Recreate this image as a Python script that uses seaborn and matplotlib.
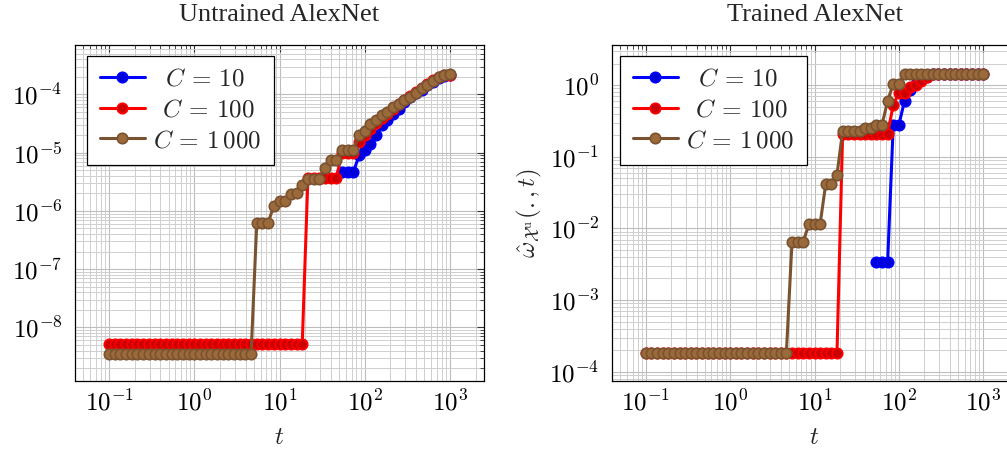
import numpy as np
import pandas as pd
import matplotlib
matplotlib.use("Agg")
import matplotlib.pyplot as plt
import seaborn as sns
from matplotlib.ticker import LogLocator, NullFormatter, FuncFormatter, FixedLocator

nan = np.nan
# sample grid of t (61 log-spaced points from 1e-1 to 1e3)
T = np.logspace(-1, 3, 61)

LABELS = [r"$\;\;C\,=\,10$", r"$\,\;C\,=\,100$", r"$C\,=\,1\,000$"]
TITLES = ["Untrained AlexNet", "Trained AlexNet"]
X_TICKS = [1e-1, 1e0, 1e1, 1e2, 1e3]
Y_TICKS_UNTRAINED = [1e-8, 1e-7, 1e-6, 1e-5, 1e-4]
Y_TICKS_TRAINED = [1e-4, 1e-3, 1e-2, 1e-1, 1e0]

# Untrained AlexNet
untrained_c10 = [nan] * 41 + [4.6e-6, 4.6e-6, 4.6e-6, 9e-6, 1.1e-5, 1.44e-5, 2.05e-5, 2.95e-5,
                              3.6e-5, 4.6e-5, 5.7e-5, 7.4e-5, 9e-5, 1.05e-4, 1.2e-4, 1.45e-4,
                              1.65e-4, 1.9e-4, 2.1e-4, 2.2e-4]
untrained_c100 = ([5.1e-9] * 35 + [3.7e-6] * 6 + [1.0e-5] * 3 +
                  [1.5e-5, 2.0e-5, 2.6e-5, 3.2e-5, 3.9e-5, 4.7e-5, 5.6e-5, 6.8e-5, 8.0e-5,
                   9.5e-5, 1.1e-4, 1.3e-4, 1.5e-4, 1.75e-4, 2.0e-4, 2.15e-4, 2.2e-4])
untrained_c1000 = ([3.5e-9] * 26 + [6.3e-7] * 3 + [1.23e-6] + [1.5e-6] * 2 +
                   [1.94e-6, 2.05e-6, 2.76e-6] + [3.6e-6] * 3 + [5.5e-6] + [7.4e-6] * 2 +
                   [1.1e-5] * 3 +
                   [2.04e-5, 2.4e-5, 3.1e-5, 3.7e-5, 4.4e-5, 5.1e-5, 6.0e-5, 7.0e-5, 8.0e-5,
                    9.2e-5, 1.08e-4, 1.27e-4, 1.48e-4, 1.73e-4, 1.99e-4, 2.2e-4, 2.24e-4])

# Trained AlexNet
trained_c10 = [nan] * 41 + [3.4e-3] * 3 + [0.28] * 2 + [0.6, 0.85, 1.05, 1.2, 1.3] + [1.41] * 10
trained_c100 = [1.84e-4] * 35 + [0.21] * 9 + [0.53, 0.78, 0.78, 0.95, 1.0, 1.15, 1.3] + [1.41] * 10
trained_c1000 = ([1.84e-4] * 26 + [6.5e-3] * 3 + [0.0115] * 3 + [0.042] * 2 + [0.056] +
                 [0.23] * 4 + [0.255] * 2 + [0.28] * 2 + [0.6] + [1.05] * 2 + [1.41] * 15)

LINE_COLORS = ["#0000FF", "#FF0000", "#7A5230"]
FACE_COLORS = ["#0000D8", "#CC0000", "#9B6A3A"]

sns.set_theme(style="white")
plt.rcParams["font.family"] = ["Liberation Serif", "DejaVu Serif"]
plt.rcParams["mathtext.fontset"] = "cm"

fig = plt.figure(figsize=(10.07, 4.51), dpi=100)
W, H = 1007, 451
ax1 = fig.add_axes([75 / W, 1 - 381 / H, 409 / W, 336 / H])
ax2 = fig.add_axes([612 / W, 1 - 381 / H, 405 / W, 336 / H])

panels = [
    (ax1, [untrained_c10, untrained_c100, untrained_c1000], (10 ** -8.92, 10 ** -3.15),
     Y_TICKS_UNTRAINED, 12 / 409),
    (ax2, [trained_c10, trained_c100, trained_c1000], (10 ** -4.13, 10 ** 0.56),
     Y_TICKS_TRAINED, 8 / 405),
]

fmt = FuncFormatter(lambda v, pos: r"$10^{%d}$" % int(round(np.log10(v))))

for k, (ax, series, ylim, yticks, legx) in enumerate(panels):
    for j, vals in enumerate(series):
        df = pd.DataFrame({"t": T, "v": vals}).dropna()
        sns.lineplot(data=df, x="t", y="v", ax=ax, estimator=None, sort=False,
                     color=LINE_COLORS[j], linewidth=2.2, marker="o", markersize=7.5,
                     markerfacecolor=FACE_COLORS[j], markeredgecolor=LINE_COLORS[j],
                     markeredgewidth=1.2, label=LABELS[j], zorder=3 + j, legend=False)
    ax.set_xscale("log")
    ax.set_yscale("log")
    ax.set_xlim(10 ** -1.4, 10 ** 3.4)
    ax.set_ylim(*ylim)
    ax.xaxis.set_major_locator(FixedLocator(X_TICKS))
    ax.yaxis.set_major_locator(FixedLocator(yticks))
    for axis in (ax.xaxis, ax.yaxis):
        axis.set_minor_locator(LogLocator(base=10, subs=np.arange(2, 10), numticks=20))
        axis.set_minor_formatter(NullFormatter())
        axis.set_major_formatter(fmt)
    ax.grid(True, which="major", color="#BDBDBD", linewidth=0.8)
    ax.grid(True, which="minor", color="#CFCFCF", linewidth=0.7)
    ax.set_axisbelow(True)
    ax.tick_params(which="both", direction="in", top=True, right=True, colors="#333333",
                   labelcolor="black", labelsize=18)
    ax.tick_params(which="major", length=5, width=0.8)
    ax.tick_params(which="minor", length=2.8, width=0.6)
    ax.tick_params(axis="x", pad=6)
    ax.tick_params(axis="y", pad=9)
    for s in ax.spines.values():
        s.set_color("black")
        s.set_linewidth(0.9)
    ax.set_xlabel(r"$t$", fontsize=18, labelpad=9)
    ax.set_ylabel(None)
    ax.set_title(TITLES[k], fontsize=19, pad=17)
    leg = ax.legend(loc="upper left", bbox_to_anchor=(legx, (381 - 56) / 336), borderaxespad=0,
                    fontsize=18, frameon=True, fancybox=False, framealpha=1, edgecolor="black",
                    handlelength=1.8, handletextpad=0.35, labelspacing=0.32, borderpad=0.5)
    leg.get_frame().set_linewidth(0.9)

ax2.set_ylabel(r"$\hat{\omega}_{\mathcal{X}^{\mathrm{u}}}(.,t)$", fontsize=18, labelpad=4)

fig.savefig("out.png", dpi=100)
